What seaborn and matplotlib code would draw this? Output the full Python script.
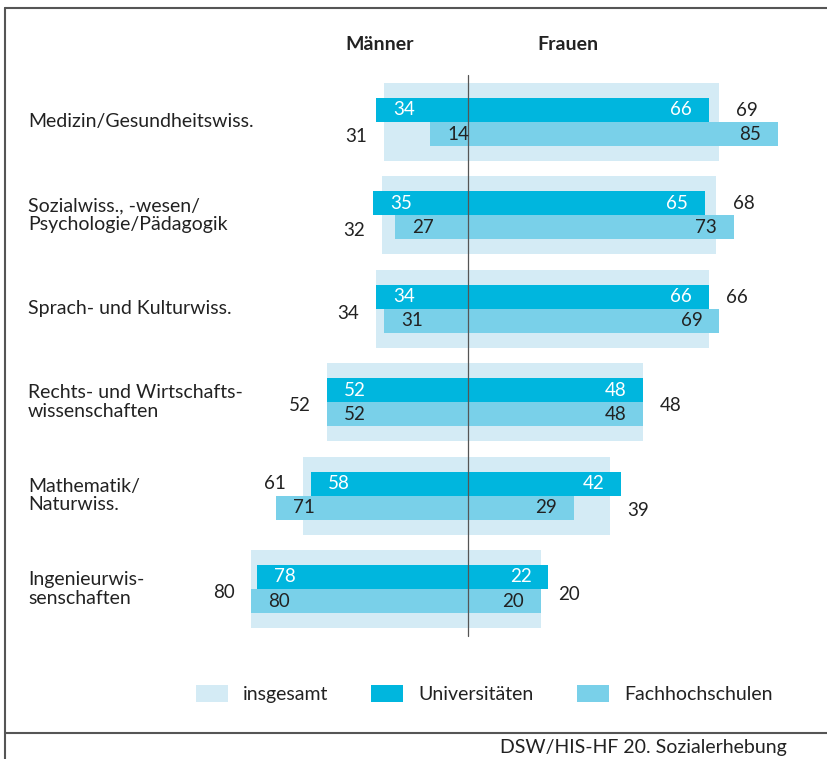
import numpy as np
import pandas as pd
import seaborn as sns
import matplotlib.pyplot as plt
from matplotlib.patches import Patch
from matplotlib.lines import Line2D

# ---------------- data ----------------
categories = [
    "Medizin/Gesundheitswiss.",
    "Sozialwiss., -wesen/\nPsychologie/Pädagogik",
    "Sprach- und Kulturwiss.",
    "Rechts- und Wirtschafts-\nwissenschaften",
    "Mathematik/\nNaturwiss.",
    "Ingenieurwis-\nsenschaften",
]
total_men = [31, 32, 34, 52, 61, 80]
total_women = [69, 68, 66, 48, 39, 20]
uni_men = [34, 35, 34, 52, 58, 78]
uni_women = [66, 65, 66, 48, 42, 22]
fh_men = [14, 27, 31, 52, 71, 80]
fh_women = [85, 73, 69, 48, 29, 20]
headers = ["Männer", "Frauen"]
legend_labels = ["insgesamt", "Universitäten", "Fachhochschulen"]
source_text = "DSW/HIS-HF 20. Sozialerhebung"

# ---------------- style ----------------
c_total = "#d4ebf5"
c_uni = "#00b6de"
c_fh = "#79d0e9"
c_text = "#222222"
c_frame = "#555555"

sns.set_style("white")
plt.rcParams["font.family"] = ["Lato", "DejaVu Sans"]

W, H = 828, 759
fig = plt.figure(figsize=(W / 100, H / 100), dpi=100)
ax = fig.add_axes([0, 0, 1, 1])

PX = 0.72  # points per pixel at 100 dpi
zero_px = 468.3
women_px = 3.64
men_px = 2.71
k = men_px / women_px
row0_px, row_step = 122.0, 93.4

df_total = pd.DataFrame({"cat": categories, "men": total_men, "women": total_women})
df_types = pd.DataFrame({
    "cat": categories * 2,
    "type": [legend_labels[1]] * 6 + [legend_labels[2]] * 6,
    "men": uni_men + fh_men,
    "women": uni_women + fh_women,
})
df_total["neg_men"] = -df_total["men"]
df_types["neg_men"] = -df_types["men"]

for col in ["neg_men", "women"]:
    sns.barplot(data=df_total, x=col, y="cat", color=c_total, width=0.835,
                orient="h", errorbar=None, saturation=1, linewidth=0, ax=ax)
    sns.barplot(data=df_types, x=col, y="cat", hue="type",
                hue_order=legend_labels[1:], palette=[c_uni, c_fh], width=0.514,
                orient="h", errorbar=None, saturation=1, linewidth=0,
                dodge=True, legend=False, ax=ax)

# asymmetric linear scale: men side narrower than women side
def fwd(x):
    x = np.asarray(x, dtype=float)
    return np.where(x < 0, x * k, x)

def inv(t):
    t = np.asarray(t, dtype=float)
    return np.where(t < 0, t / k, t)

ax.set_xscale("function", functions=(fwd, inv))
ax.set_xlim(-(zero_px / women_px) / k, (W - zero_px) / women_px)
ax.set_ylim((H - row0_px) / row_step, -row0_px / row_step)
ax.axis("off")

# centre line
ax.plot([0, 0], [-0.5, 5.5], color=c_frame, lw=0.9, zorder=5)

fs_num = 13.5
fs_lab = 14
pad = 17 * PX
off = 0.1285

# labels inside the bars
for i in range(len(categories)):
    for vals_m, vals_w, yy, col in [(uni_men, uni_women, i - off, "white"),
                                     (fh_men, fh_women, i + off, c_text)]:
        ax.annotate(str(vals_m[i]), xy=(-vals_m[i], yy), xytext=(pad, 0),
                    textcoords="offset points", ha="left", va="center",
                    fontsize=fs_num, color=col, zorder=6)
        ax.annotate(str(vals_w[i]), xy=(vals_w[i], yy), xytext=(-pad, 0),
                    textcoords="offset points", ha="right", va="center",
                    fontsize=fs_num, color=col, zorder=6)

# totals beside the light bars (vertical offsets in px, positive = down)
men_total_dy = [14, 15, 5, 3, -12, 3]
women_total_dy = [-12, -12, -11, 3, 15, 5]
for i in range(len(categories)):
    ax.annotate(str(total_men[i]), xy=(-total_men[i], i),
                xytext=(-pad, -men_total_dy[i] * PX), textcoords="offset points",
                ha="right", va="center", fontsize=fs_num, color=c_text)
    ax.annotate(str(total_women[i]), xy=(total_women[i], i),
                xytext=(pad, -women_total_dy[i] * PX), textcoords="offset points",
                ha="left", va="center", fontsize=fs_num, color=c_text)

# category labels
trans = ax.get_yaxis_transform()
for i, lab in enumerate(categories):
    ax.text(28 / W, i, lab, transform=trans, ha="left", va="center",
            fontsize=fs_lab, color=c_text, linespacing=1.12)

# headers
fig.text(380 / W, 1 - 44 / H, headers[0], ha="center", va="center",
         fontsize=14, fontweight="bold", color=c_text)
fig.text(568 / W, 1 - 44 / H, headers[1], ha="center", va="center",
         fontsize=14, fontweight="bold", color=c_text)

# legend
handles = [Patch(facecolor=c, edgecolor="none") for c in (c_total, c_uni, c_fh)]
fig.legend(handles, legend_labels, loc="center left",
           bbox_to_anchor=(196 / W, 1 - 694 / H), ncol=3, frameon=False,
           fontsize=fs_lab, handlelength=1.65, handleheight=0.93,
           handletextpad=0.78, columnspacing=2.2, borderpad=0, borderaxespad=0,
           labelcolor=c_text)

# frame lines
for xs, ys in [([5, W], [7.5, 7.5]), ([5, 5], [7.5, H]), ([5, W], [733, 733])]:
    fig.add_artist(Line2D([x / W for x in xs], [1 - y / H for y in ys],
                          transform=fig.transFigure, color=c_frame, lw=1.5))

fig.text(787 / W, 1 - 748 / H, source_text, ha="right", va="center",
         fontsize=fs_lab, color=c_text)

fig.savefig("out.png", dpi=100)
